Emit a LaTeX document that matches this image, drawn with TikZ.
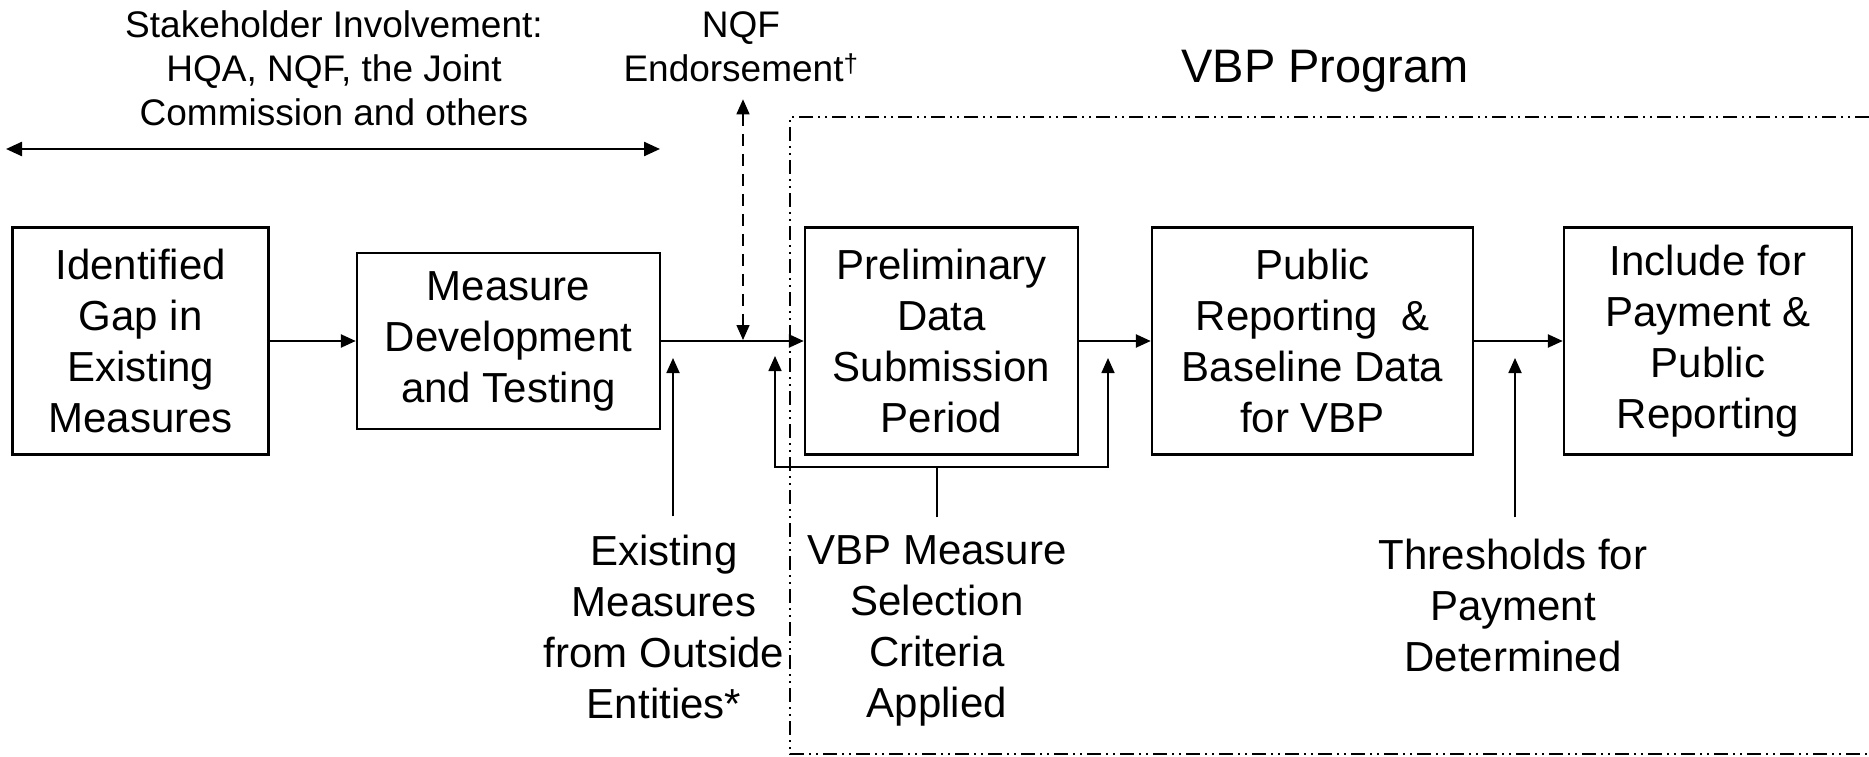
\documentclass[tikz,border=0pt]{standalone}
\usepackage{fontspec}
\setmainfont{Liberation Sans}
\usetikzlibrary{arrows.meta}
\begin{document}
\begin{tikzpicture}[x=1pt,y=-1pt,
  tip/.style={-{Triangle[length=15pt,width=13pt]}},
  stepbox/.style={draw, line width=2.4pt, align=center, inner sep=0pt,
    font=\fontsize{42}{51}\selectfont},
  lbl/.style={align=center, inner sep=0pt, font=\fontsize{42}{51}\selectfont},
  toplbl/.style={align=center, inner sep=0pt, font=\fontsize{37}{44}\selectfont},
  flow/.style={tip, line width=2.4pt},
  feed/.style={tip, line width=1.8pt},
  stem/.style={line width=1.6pt},
  endorse/.style={line width=1.5pt, dash pattern=on 12pt off 8pt,
    {Triangle[length=15pt,width=13pt]}-{Triangle[length=15pt,width=13pt]}},
  frame/.style={line width=1.5pt,
    dash pattern=on 14pt off 5pt on 2pt off 5pt on 2pt off 5pt}]
\useasboundingbox (0,0) rectangle (1869,757);

% process steps
\node[stepbox, minimum width=256pt, minimum height=227pt] (b1) at (140.6,341)
  {Identified\\Gap in\\Existing\\Measures};
\node[stepbox, minimum width=303pt, minimum height=176pt] (b2) at (508.5,341)
  {Measure\\Development\\and Testing};
\node[stepbox, minimum width=273pt, minimum height=227pt] (b3) at (941.5,341)
  {Preliminary\\Data\\Submission\\Period};
\node[stepbox, minimum width=321pt, minimum height=227pt] (b4) at (1312.5,341)
  {Public\\Reporting\ \ \&\\Baseline Data\\for VBP};
\node[stepbox, minimum width=288pt, minimum height=227pt] (b5) at (1708,341)
  {Include for\\Payment \&\\Public\\Reporting};

\draw[flow] (b1.east) -- (b2.west);
\draw[flow] (b2.east) -- (b3.west);
\draw[flow] (b3.east) -- (b4.west);
\draw[flow] (b4.east) -- (b5.west);

% stakeholder span
\node[toplbl] (stake) at (334,68)
  {Stakeholder Involvement:\\HQA, NQF, the Joint\\Commission and others};
\coordinate (spanL) at (6,149);
\coordinate (spanR) at (660,149);
\draw[line width=2.4pt, {Triangle[length=16pt,width=14pt]}-{Triangle[length=16pt,width=14pt]}]
  (spanL) -- (spanR);

% endorsement
\node[toplbl] (nqf) at (741,47) {NQF\\Endorsement\textsuperscript{†}};
\coordinate (nqfin) at (743,340);
\draw[endorse, shorten <=17pt] (nqfin |- nqf.south) -- (nqfin);

% program frame
\node[font=\fontsize{47}{56}\selectfont, inner sep=0pt] (prog) at (1325,71) {VBP Program};
\draw[frame] (1869,117) -- (790,117) -- (790,754) -- (1869,754);

% inputs from below
\node[lbl] (ext) at (664,626.5)
  {Existing\\Measures\\from Outside\\Entities*};
\node[lbl] (crit) at (937,631)
  {VBP Measure\\Selection\\Criteria\\Applied};
\node[lbl] (thr) at (1513,605)
  {Thresholds for\\Payment\\Determined};

\coordinate (extin) at (673,358);
\draw[feed, shorten <=18pt] (extin |- ext.north) -- (extin);

\coordinate (selJ) at (937,467);
\coordinate (selL) at (775,356);
\coordinate (selR) at (1108,358);
\draw[stem, shorten <=18pt] (crit.north) -- (selJ);
\draw[feed, line width=1.6pt] (selJ) -| (selL);
\draw[feed, line width=1.6pt] (selJ) -| (selR);

\coordinate (thrin) at (1515,358);
\draw[feed, shorten <=21pt] (thrin |- thr.north) -- (thrin);
\end{tikzpicture}
\end{document}
